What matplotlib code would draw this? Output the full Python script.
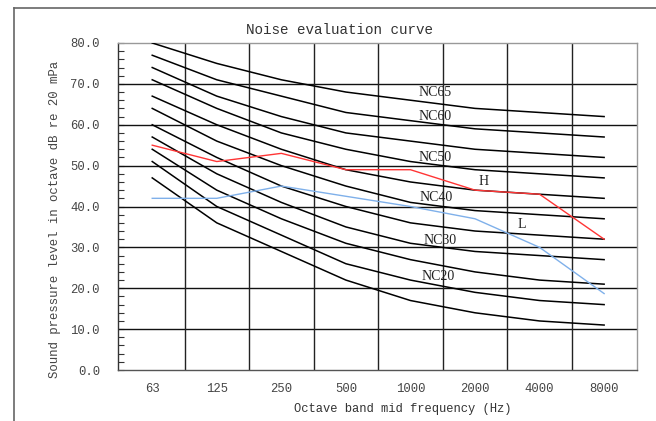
"""Noise evaluation (NC) curves with two measured spectra."""

import numpy as np
import matplotlib.pyplot as plt
from matplotlib.lines import Line2D
from matplotlib.ticker import MultipleLocator

# Octave band centre frequencies (Hz)
bands = ["63", "125", "250", "500", "1000", "2000", "4000", "8000"]

# NC rating curves, NC15 .. NC65
nc_names = ["NC15", "NC20", "NC25", "NC30", "NC35", "NC40",
            "NC45", "NC50", "NC55", "NC60", "NC65"]
nc_levels = [
    [47, 36, 29, 22, 17, 14, 12, 11],
    [51, 40, 33, 26, 22, 19, 17, 16],
    [54, 44, 37, 31, 27, 24, 22, 21],
    [57, 48, 41, 35, 31, 29, 28, 27],
    [60, 52, 45, 40, 36, 34, 33, 32],
    [64, 56, 50, 45, 41, 39, 38, 37],
    [67, 60, 54, 49, 46, 44, 43, 42],
    [71, 64, 58, 54, 51, 49, 48, 47],
    [74, 67, 62, 58, 56, 54, 53, 52],
    [77, 71, 67, 63, 61, 59, 58, 57],
    [80, 75, 71, 68, 66, 64, 63, 62],
]

# measured spectra
high_spectrum = [55, 51, 53, 49, 49, 44, 43, 32]
low_spectrum = [42, 42, 45, 42.5, 40, 37, 30, 18.7]

# which curves get a label, and where the label sits
labelled = ["NC65", "NC60", "NC50", "NC40", "NC30", "NC20"]
label_pos = [(4.38, 67.8), (4.38, 61.9), (4.38, 52.1),
             (4.40, 42.3), (4.46, 31.8), (4.43, 22.8)]

mono = "Liberation Mono"
serif = "Liberation Serif"
txt_col = "#444444"

fig = plt.figure(figsize=(6.56, 4.21), dpi=100)
ax = fig.add_axes([0.1799, 0.1211, 0.7912, 0.7768])

x = np.arange(len(bands))

for lev in nc_levels:
    ax.plot(x, lev, color="black", lw=1.1, zorder=3)

ax.plot(x, high_spectrum, color="#ff3535", lw=1.0, zorder=4)
ax.plot(x, low_spectrum, color="#7fb0ea", lw=1.0, zorder=4)

for name, (px, py) in zip(labelled, label_pos):
    ax.text(px, py, name, family=serif, fontsize=10, color="#222222",
            ha="center", va="center", zorder=5)
ax.text(5.14, 46.0, "H", family=serif, fontsize=10, color="#222222",
        ha="center", va="center", zorder=5)
ax.text(5.73, 35.7, "L", family=serif, fontsize=10, color="#222222",
        ha="center", va="center", zorder=5)

# grid: horizontal at every 10, vertical between bands
for yv in range(10, 80, 10):
    ax.axhline(yv, color="#111111", lw=1.0, zorder=2)
for xv in np.arange(0.5, 7, 1.0):
    ax.axvline(xv, color="#222222", lw=1.0, zorder=2)

ax.set_xlim(-0.53, 7.51)
ax.set_ylim(0, 80)

ax.set_xticks(x)
ax.set_xticklabels(bands, family=mono, fontsize=8.8, color=txt_col)
ax.tick_params(axis="x", length=0, pad=9)

ax.yaxis.set_major_locator(MultipleLocator(10))
ax.yaxis.set_minor_locator(MultipleLocator(2))
ax.set_yticks(range(0, 81, 10))
ax.set_yticklabels(["%.1f" % v for v in range(0, 81, 10)],
                   family=mono, fontsize=8.8, color=txt_col)
ax.tick_params(axis="y", which="both", direction="in", length=4,
               width=0.8, color="#333333", pad=13)

ax.spines["left"].set_color("#333333")
ax.spines["bottom"].set_color("#555555")
ax.spines["top"].set_color("#999999")
ax.spines["right"].set_color("#999999")
for s in ax.spines.values():
    s.set_linewidth(1.0)

fig.text(340 / 656, 1 - 30 / 421, "Noise evaluation curve", family=mono,
         fontsize=10.3, color="#333333", ha="center", va="center")
fig.text(403 / 656, 1 - 409 / 421, "Octave band mid frequency (Hz)",
         family=mono, fontsize=8.7, color="#333333", ha="center", va="center")
fig.text(55 / 656, 1 - 219 / 421, "Sound pressure level in octave dB re 20 mPa",
         family=mono, fontsize=8.9, color=txt_col, rotation=90,
         ha="center", va="center")

# outer frame, only the left and top edges show
fig.add_artist(Line2D([14 / 656, 14 / 656], [0, 1 - 8 / 421],
                      transform=fig.transFigure, color="#666666", lw=1.2))
fig.add_artist(Line2D([14 / 656, 1], [1 - 8 / 421, 1 - 8 / 421],
                      transform=fig.transFigure, color="#666666", lw=1.2))

fig.savefig("out.png", dpi=100)
